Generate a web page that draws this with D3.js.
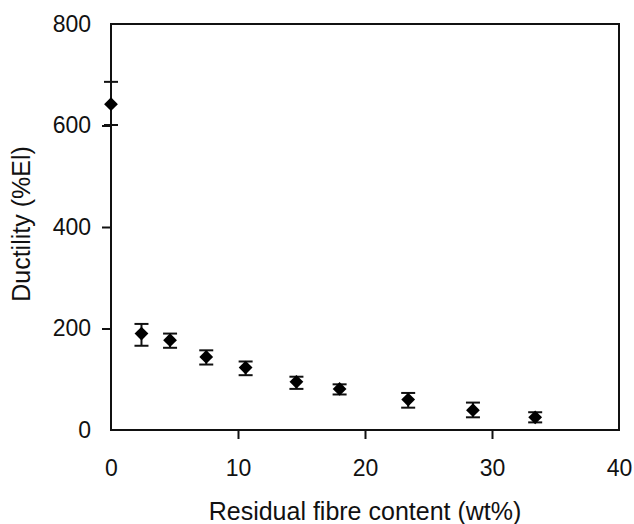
<!DOCTYPE html>
<html>
<head>
<meta charset="utf-8">
<script src="https://cdn.jsdelivr.net/npm/d3@7"></script>
<style>
  body { margin: 0; background: #fff; }
  text { font-family: "Liberation Sans", Arial, sans-serif; fill: #111; }
</style>
</head>
<body>
<div id="chart"></div>
<script>
// values
const fibreContent = [0, 2.4, 4.65, 7.5, 10.6, 14.6, 18.0, 23.4, 28.5, 33.4];
const ductility = [642, 190, 177, 144, 123, 95, 81, 60, 39, 25];
const errUpper = [686, 209, 190, 157, 135, 105, 90, 73, 54, 35];
const errLower = [601, 166, 162, 129, 108, 81, 70, 44, 25, 15];
const xTicks = [0, 10, 20, 30, 40];
const yTicks = [0, 200, 400, 600, 800];

const dimension = {
  width: 634,
  height: 524,
  margin: { top: 24, right: 15, bottom: 94, left: 111 }
};
const innerW = dimension.width - dimension.margin.left - dimension.margin.right;
const innerH = dimension.height - dimension.margin.top - dimension.margin.bottom;

const svg = d3.select('#chart')
  .append('svg')
  .attr('width', dimension.width)
  .attr('height', dimension.height);

const ctr = svg.append('g')
  .attr('transform', `translate(${dimension.margin.left}, ${dimension.margin.top})`);

const xScale = d3.scaleLinear().domain([0, 40]).range([0, innerW]);
const yScale = d3.scaleLinear().domain([0, 800]).range([innerH, 0]);

// axes
const xAxis = ctr.append('g')
  .attr('transform', `translate(0, ${innerH})`)
  .call(d3.axisBottom(xScale).tickValues(xTicks).tickSize(9).tickPadding(21));
const yAxis = ctr.append('g')
  .call(d3.axisLeft(yScale).tickValues(yTicks).tickSize(9).tickPadding(11));

for (const ax of [xAxis, yAxis]) {
  ax.select('.domain').remove();
  ax.selectAll('.tick line')
    .attr('stroke', '#111')
    .attr('stroke-width', 2)
    .filter((d, i, n) => i === 0 || i === n.length - 1)
    .remove();
  ax.selectAll('.tick text')
    .attr('font-size', 23)
    .attr('fill', '#111');
}

// frame
ctr.append('rect')
  .attr('width', innerW)
  .attr('height', innerH)
  .attr('fill', 'none')
  .attr('stroke', '#111')
  .attr('stroke-width', 2);

const data = fibreContent.map((x, i) => ({ x, y: ductility[i], hi: errUpper[i], lo: errLower[i] }));

// error bars
const capW = 7;
const bars = ctr.selectAll('g.err')
  .data(data)
  .join('g')
  .attr('class', 'err')
  .attr('stroke', '#111')
  .attr('stroke-width', 2);
bars.append('line')
  .attr('x1', d => xScale(d.x)).attr('x2', d => xScale(d.x))
  .attr('y1', d => yScale(d.hi)).attr('y2', d => yScale(d.lo));
bars.append('line')
  .attr('x1', d => xScale(d.x) - capW).attr('x2', d => xScale(d.x) + capW)
  .attr('y1', d => yScale(d.hi)).attr('y2', d => yScale(d.hi));
bars.append('line')
  .attr('x1', d => xScale(d.x) - capW).attr('x2', d => xScale(d.x) + capW)
  .attr('y1', d => yScale(d.lo)).attr('y2', d => yScale(d.lo));

// diamond markers
ctr.selectAll('path.pt')
  .data(data)
  .join('path')
  .attr('class', 'pt')
  .attr('d', d3.symbol(d3.symbolSquare, 95))
  .attr('transform', d => `translate(${xScale(d.x)}, ${yScale(d.y)}) rotate(45)`)
  .attr('fill', '#000');

// axis titles
svg.append('text')
  .attr('x', dimension.margin.left + innerW / 2)
  .attr('y', 520)
  .attr('text-anchor', 'middle')
  .attr('font-size', 25)
  .text('Residual fibre content (wt%)');

svg.append('text')
  .attr('transform', 'translate(30, 224) rotate(-90)')
  .attr('text-anchor', 'middle')
  .attr('font-size', 25)
  .text('Ductility (%El)');
</script>
</body>
</html>
